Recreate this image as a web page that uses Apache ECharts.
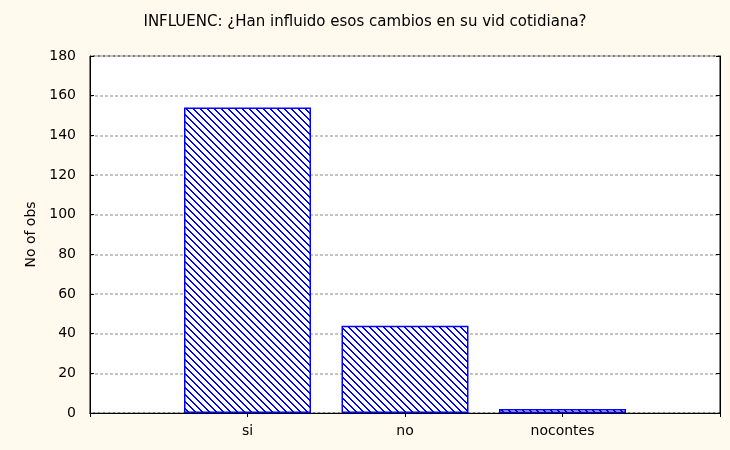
<!DOCTYPE html>
<html>
<head>
<meta charset="utf-8">
<script src="https://cdn.jsdelivr.net/npm/echarts@6/dist/echarts.min.js"></script>
<style>
  html, body { margin: 0; padding: 0; background: #FFF9EE; }
  #chart { width: 730px; height: 450px; }
</style>
</head>
<body>
<div id="chart"></div>
<script>
// data
var categories = ['', 'si', 'no', 'nocontes', ''];
var counts = ['-', 154, 44, 2, '-'];
var yTicks = { min: 0, max: 180, interval: 20 };

// blue diagonal hatch like the original
function makeHatch() {
    var c = document.createElement('canvas');
    c.width = 7;
    c.height = 7;
    var ctx = c.getContext('2d');
    ctx.fillStyle = '#ffffff';
    ctx.fillRect(0, 0, 7, 7);
    ctx.fillStyle = '#0000ff';
    for (var i = 0; i < 7; i++) {
        ctx.fillRect(i, i, 1, 1);
        ctx.fillRect((i + 1) % 7, i, 1, 1);
    }
    return c;
}

var chart = echarts.init(document.getElementById('chart'));

var option = {
    backgroundColor: '#FFF9EE',
    textStyle: { fontFamily: 'DejaVu Sans, Arial, sans-serif', color: '#000' },
    title: {
        text: 'INFLUENC: ¿Han influido esos cambios en su vid cotidiana?',
        left: 'center',
        top: 10,
        textStyle: { fontSize: 15, fontWeight: 'normal', color: '#000', fontFamily: 'DejaVu Sans' }
    },
    grid: {
        left: 90,
        right: 10,
        top: 56,
        bottom: 37,
        show: true,
        backgroundColor: '#ffffff',
        borderColor: '#000',
        borderWidth: 1
    },
    xAxis: [
        {
            type: 'category',
            data: categories,
            boundaryGap: false,
            axisLine: { lineStyle: { color: '#000', width: 1 } },
            axisTick: { inside: true, length: 4, lineStyle: { color: '#000' } },
            axisLabel: { fontSize: 14, color: '#000', margin: 11 },
            splitLine: { show: false }
        },
        {
            type: 'category',
            data: categories,
            position: 'top',
            boundaryGap: false,
            axisLine: { lineStyle: { color: '#000', width: 1 } },
            axisTick: { inside: true, length: 4, lineStyle: { color: '#000' } },
            axisLabel: { show: false }
        }
    ],
    yAxis: [
        {
            type: 'value',
            min: yTicks.min,
            max: yTicks.max,
            interval: yTicks.interval,
            name: 'No of obs',
            nameLocation: 'middle',
            nameGap: 50,
            nameTextStyle: { fontSize: 14, color: '#000' },
            axisLine: { show: true, lineStyle: { color: '#000', width: 1 } },
            axisTick: { show: true, inside: true, length: 4, lineStyle: { color: '#000' } },
            axisLabel: { fontSize: 14, color: '#000', margin: 14 },
            splitLine: { show: true, lineStyle: { color: '#c4c4c4', width: 2, type: [3, 2] } }
        },
        {
            type: 'value',
            position: 'right',
            min: yTicks.min,
            max: yTicks.max,
            interval: yTicks.interval,
            axisLine: { show: true, lineStyle: { color: '#000', width: 1 } },
            axisTick: { show: true, inside: true, length: 4, lineStyle: { color: '#000' } },
            axisLabel: { show: false },
            splitLine: { show: false }
        }
    ],
    series: [
        {
            type: 'bar',
            data: counts,
            barWidth: 127,
            itemStyle: {
                color: { image: makeHatch(), repeat: 'repeat' },
                borderColor: '#0000ff',
                borderWidth: 1.5
            },
            animation: false
        }
    ]
};

chart.setOption(option);
</script>
</body>
</html>
